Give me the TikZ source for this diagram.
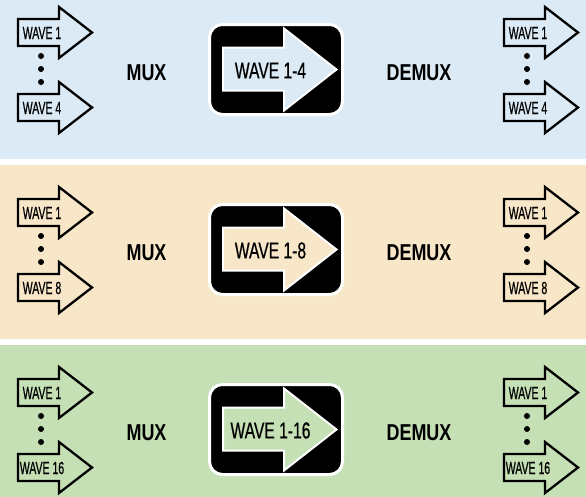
\documentclass[tikz,border=0pt]{standalone}
\usepackage{fontspec}
\newfontfamily\smallfont[FakeStretch=0.6,FakeBold=0.6]{Liberation Sans}
\newfontfamily\midfont[FakeStretch=0.68,FakeBold=0.6]{Liberation Sans}
\newfontfamily\labfont[FakeStretch=0.78]{Liberation Sans}
\definecolor{bandA}{RGB}{219,234,244}
\definecolor{bandB}{RGB}{248,230,201}
\definecolor{bandC}{RGB}{197,224,180}
\tikzset{
  wavearrow/.style={draw=black, line width=2.3pt, line join=miter},
  bigbox/.style={fill=black, draw=white, line width=3pt, rounded corners=13pt},
  bigarrow/.style={draw=white, line width=2pt, line join=miter},
  dotmark/.style={fill=black, draw=none},
  smalltext/.style={inner sep=0pt, font=\smallfont\fontsize{17.5}{19}\selectfont},
  midtext/.style={inner sep=0pt, font=\midfont\fontsize{23}{26}\selectfont},
  labtext/.style={inner sep=0pt, font=\labfont\bfseries\fontsize{23}{26}\selectfont},
}
\newcommand{\smallarr}[3]{% x0, center y, fill colour
  \draw[wavearrow, fill=#3] (#1,#2-13.5) -- ++(41,0) -- ++(0,-12) -- (#1+74,#2)
     -- (#1+41,#2+25.5) -- ++(0,-12) -- (#1,#2+13.5) -- cycle;
}
\begin{document}
\begin{tikzpicture}[x=1pt,y=-1pt]
\useasboundingbox (0,0) rectangle (586,496);
\foreach \oy/\col/\n/\mid in {0/bandA/4/1-4, 180/bandB/8/1-8, 360/bandC/16/1-16}{
  \fill[\col] (0,\oy-15) rectangle (586,\oy+159);
  % left side arrows
  \smallarr{18}{\oy+32.5}{\col}
  \smallarr{18}{\oy+107.5}{\col}
  \node[smalltext] (lt\n) at (42,\oy+33) {WAVE 1};
  \node[smalltext] (lb\n) at (42,\oy+108) {WAVE \n};
  \foreach \dy in {56,69,82}{\fill[dotmark] (41,\oy+\dy) circle (3);}
  % right side arrows
  \smallarr{504}{\oy+32.5}{\col}
  \smallarr{504}{\oy+107.5}{\col}
  \node[smalltext] (rt\n) at (528,\oy+33) {WAVE 1};
  \node[smalltext] (rb\n) at (528,\oy+108) {WAVE \n};
  \foreach \dy in {56,69,82}{\fill[dotmark] (527,\oy+\dy) circle (3);}
  % labels
  \node[labtext] (mux\n) at (146.5,\oy+73) {MUX};
  \node[labtext] (demux\n) at (419,\oy+72.5) {DEMUX};
  % central box
  \draw[bigbox] (209.5,\oy+24.5) rectangle (342.5,\oy+114.5);
  \draw[bigarrow, fill=\col] (223,\oy+47.5) -- (284,\oy+47.5) -- (284,\oy+28.5)
     -- (336.5,\oy+69.5) -- (284,\oy+110.5) -- (284,\oy+90.5) -- (223,\oy+90.5) -- cycle;
  \node[midtext] (mid\n) at (270.5,\oy+70.5) {WAVE \mid};
}
\end{tikzpicture}
\end{document}
